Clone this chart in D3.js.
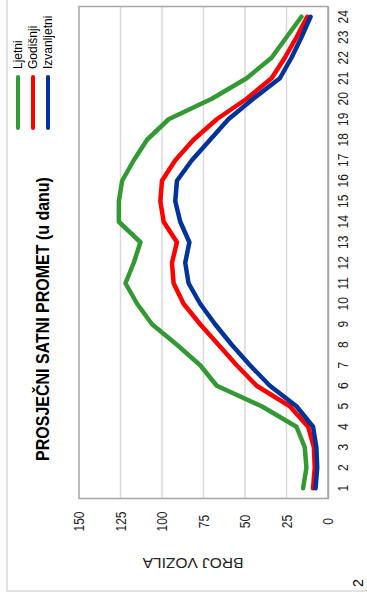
<!DOCTYPE html>
<html><head><meta charset="utf-8">
<script src="https://cdn.jsdelivr.net/npm/d3@7"></script>
<style>
html,body{margin:0;padding:0;background:#fff;}
svg{display:block;font-family:"Liberation Sans",Arial,sans-serif;}
</style></head>
<body>
<svg id="c" width="367" height="592"></svg>
<script>
const hours = ["1","2","3","4","5","6","7","8","9","10","11","12","13","14","15","16","17","18","19","20","21","22","23","24"];
const seriesNames = ["Ljetni","Godišnji","Izvanljetni"];
const ljetni = [15,13,14,19,40,67,77,91,106,115,122,117,113,126,126,124,117,109,96,70,49,34,25,16];
const godisnji = [9,8,8.5,12,23,43,55,66,77,87,93,94,91,99,101,100,92,81,67,49,34,26,19,12.5];
const izvanljetni = [7.5,6.5,7,9,19,35,47,58,68,77,84,86,83.5,89,92,91,82,71,60,45,29,22,16,10.5];
const valueTicks = [0,25,50,75,100,125,150];
const colors = ["#339933","#ff0000","#003399"];
const title = "PROSJEČNI SATNI PROMET (u danu)";
const yTitle = "BROJ VOZILA";

const svg = d3.select("#c");
const L = 79, R = 328, T = 6.5, B = 498.5;
const x = d3.scaleLinear().domain([0,150]).range([R,L]);
const y = d3.scaleBand().domain(hours).range([B,T]).paddingInner(0).paddingOuter(0);
const yc = h => y(h) + y.bandwidth()/2;

// outer chart border
svg.append("path").attr("d","M7,-2 L7,591 L370,591").attr("fill","none").attr("stroke","#d9d9d9").attr("stroke-width",1.5);

// gridlines
svg.append("g").selectAll("line").data(valueTicks.filter(v=>v>0 && v<150)).join("line")
  .attr("x1",d=>x(d)).attr("x2",d=>x(d)).attr("y1",T).attr("y2",B)
  .attr("stroke","#d9d9d9").attr("stroke-width",1.5);

// plot border
svg.append("rect").attr("x",L).attr("y",T).attr("width",R-L).attr("height",B-T)
  .attr("fill","none").attr("stroke","#a6a6a6").attr("stroke-width",1.5);

// value axis (bottom)
const gx = svg.append("g").attr("transform",`translate(0,${B})`)
  .call(d3.axisBottom(x).tickValues(valueTicks).tickSize(0).tickFormat(d3.format("d")));
gx.select(".domain").remove();
gx.selectAll("text").attr("x",0).attr("y",0).attr("dy",null)
  .attr("transform","translate(0,23) rotate(-90) scale(1,1.15)")
  .attr("text-anchor","middle").attr("dominant-baseline","central")
  .attr("font-size",12).attr("fill","#222").attr("font-family",null);

// category axis (right)
const gy = svg.append("g").attr("transform",`translate(${R},0)`)
  .call(d3.axisRight(y).tickSize(0));
gy.select(".domain").attr("stroke","#a6a6a6").attr("stroke-width",1.5);
gy.selectAll("text").attr("x",0).attr("y",0).attr("dy",null)
  .attr("transform","translate(15,0) rotate(-90) scale(1,1.15)")
  .attr("text-anchor","middle").attr("dominant-baseline","central")
  .attr("font-size",12).attr("fill","#222").attr("font-family",null);

// lines
const line = d3.line().x(d=>x(d.v)).y(d=>yc(d.h));
[ljetni, godisnji, izvanljetni].forEach((s,i)=>{
  svg.append("path").datum(s.map((v,j)=>({h:hours[j],v})))
    .attr("d",line).attr("fill","none").attr("stroke",colors[i])
    .attr("stroke-width",4.5).attr("stroke-linejoin","round").attr("stroke-linecap","round");
});

// title
svg.append("text").attr("transform","translate(43,319) rotate(-90) scale(1,1.1)")
  .attr("text-anchor","middle").attr("dominant-baseline","central")
  .attr("font-weight","bold").attr("font-size",16).attr("fill","#000").text(title);

// axis title (upside down)
svg.append("text").attr("transform","translate(193,563) rotate(180)")
  .attr("text-anchor","middle").attr("dominant-baseline","central")
  .attr("font-size",15.5).attr("fill","#222").text(yTitle);

// legend
const lg = svg.append("g");
seriesNames.forEach((n,i)=>{
  const lx = 18 + i*15;
  lg.append("line").attr("x1",lx).attr("x2",lx).attr("y1",77).attr("y2",128)
    .attr("stroke",colors[i]).attr("stroke-width",4).attr("stroke-linecap","round");
  lg.append("text").attr("transform",`translate(${lx},69) rotate(-90)`)
    .attr("text-anchor","start").attr("dominant-baseline","central")
    .attr("font-size",12).attr("fill","#000").text(n);
});

// page number
svg.append("text").attr("transform","translate(358,583) rotate(-90)")
  .attr("text-anchor","middle").attr("dominant-baseline","central")
  .attr("font-size",14).attr("fill","#000").text("2");
</script>
</body></html>
